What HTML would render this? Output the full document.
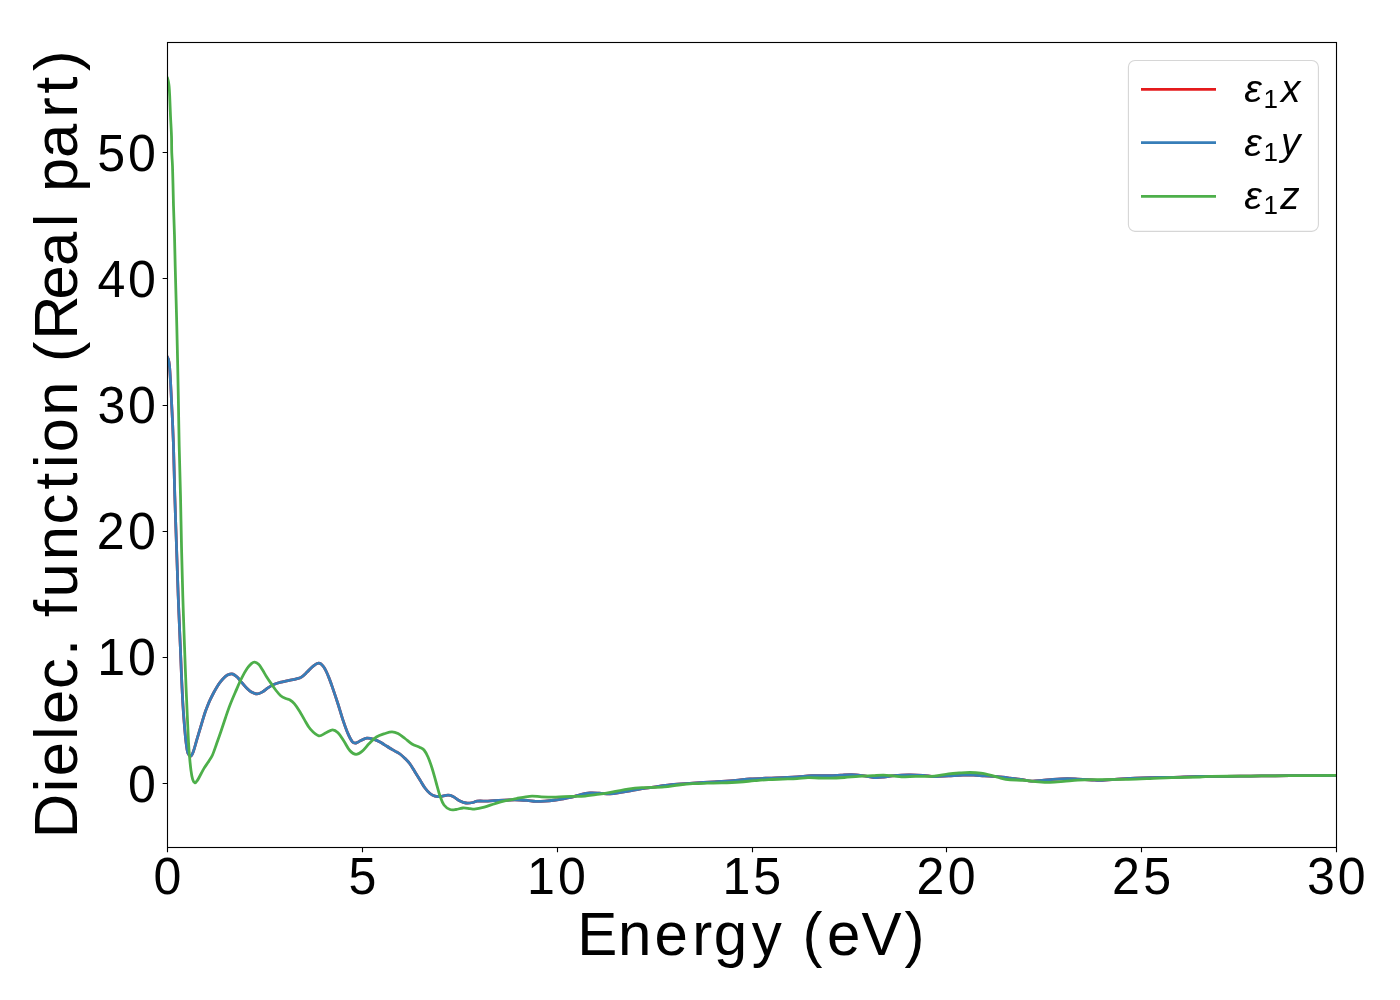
<!DOCTYPE html><html><head><meta charset="utf-8"><title>Dielectric function</title><style>html,body{margin:0;padding:0;background:#fff;overflow:hidden;}svg{display:block;}text{font-family:'Liberation Sans', sans-serif;fill:#000;}.t{opacity:0.999;}</style></head><body>
<svg width="1400" height="1000" viewBox="0 0 1400 1000">
<rect x="0" y="0" width="1400" height="1000" fill="#fff"/>
<defs><clipPath id="ax"><rect x="167.50" y="42.50" width="1169.00" height="805.00"/></clipPath></defs>
<g clip-path="url(#ax)" fill="none" stroke-width="2.78" stroke-linejoin="round" stroke-linecap="square">
<path d="M167.50 357.40 C167.83 358.10 168.33 358.75 168.50 359.50 C168.99 361.62 169.30 363.82 169.50 366.00 C169.96 370.99 170.21 376.00 170.50 381.00 C170.88 387.66 171.17 394.33 171.50 401.00 C171.83 407.67 172.20 414.33 172.50 421.00 C172.87 429.33 173.24 437.66 173.50 446.00 C174.01 462.66 174.30 479.34 174.80 496.00 C175.30 512.67 175.93 529.33 176.50 546.00 C177.07 562.67 177.57 579.34 178.20 596.00 C178.83 612.67 179.61 629.33 180.30 646.00 C180.71 656.00 181.05 666.00 181.50 676.00 C181.95 686.00 182.39 696.01 183.00 706.00 C183.49 714.01 184.13 722.01 184.80 730.00 C185.13 734.01 185.48 738.02 186.00 742.00 C186.48 745.62 186.73 749.41 187.80 752.80 C188.23 754.14 189.66 756.32 190.50 756.20 C191.46 756.06 192.61 753.54 193.20 752.00 C194.67 748.17 195.52 744.06 196.70 740.10 C197.59 737.13 198.50 734.17 199.40 731.20 C200.30 728.20 201.20 725.20 202.10 722.20 C203.00 719.20 203.81 716.17 204.80 713.20 C205.61 710.77 206.55 708.38 207.50 706.00 C208.35 703.88 209.23 701.77 210.20 699.70 C211.33 697.27 212.54 694.87 213.80 692.50 C214.94 690.37 216.10 688.24 217.40 686.20 C218.50 684.47 219.70 682.79 221.00 681.20 C222.40 679.49 223.78 677.64 225.50 676.30 C226.78 675.30 228.44 674.66 230.00 674.20 C230.91 673.93 232.05 673.75 232.90 674.10 C234.41 674.72 235.86 675.93 237.10 677.10 C238.69 678.60 239.96 680.44 241.40 682.10 C243.29 684.27 245.07 686.57 247.10 688.60 C248.40 689.90 249.80 691.25 251.40 692.10 C253.13 693.02 255.21 693.90 257.10 693.90 C258.78 693.90 260.57 692.95 262.10 692.10 C264.17 690.95 265.89 689.18 267.90 687.90 C269.96 686.58 272.06 685.26 274.30 684.30 C276.56 683.33 279.00 682.72 281.40 682.10 C284.00 681.42 286.67 680.96 289.30 680.40 C291.67 679.90 294.07 679.53 296.40 678.90 C298.11 678.43 299.93 678.03 301.40 677.10 C303.50 675.77 305.25 673.82 307.10 672.10 C309.08 670.25 310.77 668.03 312.90 666.40 C314.64 665.07 316.84 663.13 318.70 663.20 C320.41 663.26 322.43 665.21 323.60 666.80 C325.66 669.61 327.01 673.11 328.40 676.40 C330.21 680.71 331.66 685.18 333.20 689.60 C334.86 694.38 336.46 699.18 338.00 704.00 C339.66 709.18 341.08 714.44 342.80 719.60 C344.28 724.04 345.75 728.51 347.60 732.80 C348.95 735.91 350.36 739.32 352.40 741.80 C353.16 742.72 354.84 743.17 356.00 743.00 C357.64 742.77 359.17 741.33 360.80 740.60 C362.77 739.73 364.73 738.39 366.80 738.20 C369.13 737.99 371.68 738.73 374.00 739.40 C376.08 740.00 378.07 741.00 380.00 742.00 C381.74 742.90 383.33 744.07 385.00 745.10 C386.67 746.13 388.32 747.19 390.00 748.20 C391.65 749.19 393.33 750.13 395.00 751.10 C396.67 752.07 398.46 752.86 400.00 754.00 C401.79 755.33 403.42 756.92 405.00 758.50 C406.75 760.25 408.53 762.02 410.00 764.00 C411.86 766.52 413.33 769.33 415.00 772.00 C416.67 774.67 418.33 777.33 420.00 780.00 C421.67 782.67 423.14 785.48 425.00 788.00 C426.47 789.98 428.11 791.95 430.00 793.50 C431.44 794.68 433.23 795.67 435.00 796.20 C436.56 796.67 438.34 796.63 440.00 796.50 C442.68 796.29 445.35 795.20 448.00 795.20 C449.69 795.20 451.47 795.76 453.00 796.50 C455.47 797.69 457.54 799.77 460.00 801.00 C461.87 801.94 463.95 802.76 466.00 803.00 C468.28 803.26 470.71 802.89 473.00 802.50 C474.41 802.26 475.68 801.23 477.10 801.10 C480.64 800.77 484.30 801.22 487.90 801.10 C491.47 800.98 495.03 800.58 498.60 800.40 C502.16 800.22 505.73 800.07 509.30 800.00 C512.87 799.93 516.44 799.92 520.00 800.00 C522.37 800.05 524.74 800.19 527.10 800.40 C529.97 800.66 532.82 801.29 535.70 801.40 C538.79 801.52 541.91 801.32 545.00 801.10 C548.57 800.85 552.14 800.43 555.70 800.00 C557.14 799.83 558.57 799.54 560.00 799.30 C563.57 798.71 567.18 798.32 570.70 797.50 C574.32 796.65 577.78 795.14 581.40 794.30 C584.22 793.64 587.12 793.18 590.00 793.00 C593.08 792.81 596.20 793.06 599.30 793.20 C602.87 793.36 606.44 794.02 610.00 793.90 C613.58 793.78 617.14 793.03 620.70 792.50 C624.28 791.97 627.84 791.31 631.40 790.70 C636.17 789.88 640.92 788.97 645.70 788.20 C650.46 787.44 655.23 786.77 660.00 786.10 C663.80 785.57 667.58 784.94 671.40 784.60 C678.55 783.97 685.73 783.67 692.90 783.20 C700.03 782.73 707.17 782.27 714.30 781.80 C721.43 781.33 728.58 780.98 735.70 780.40 C740.48 780.01 745.22 779.20 750.00 778.90 C758.55 778.37 767.14 778.28 775.70 777.90 C782.84 777.58 789.97 777.24 797.10 776.80 C801.87 776.51 806.63 775.87 811.40 775.70 C817.59 775.47 823.80 775.73 830.00 775.60 C833.57 775.53 837.13 775.27 840.70 775.10 C844.27 774.93 847.84 774.52 851.40 774.60 C854.97 774.68 858.55 775.15 862.10 775.60 C866.18 776.12 870.21 777.21 874.30 777.50 C877.38 777.71 880.51 777.38 883.60 777.10 C887.18 776.78 890.72 776.00 894.30 775.70 C899.05 775.30 903.83 775.05 908.60 775.00 C913.36 774.95 918.14 775.10 922.90 775.40 C926.71 775.64 930.49 776.53 934.30 776.60 C939.06 776.69 943.83 776.15 948.60 775.90 C953.37 775.65 958.13 775.25 962.90 775.10 C966.46 774.99 970.04 774.97 973.60 775.10 C977.17 775.23 980.73 775.68 984.30 775.90 C987.86 776.12 991.44 776.13 995.00 776.40 C998.57 776.67 1002.14 777.07 1005.70 777.50 C1007.14 777.67 1008.56 778.03 1010.00 778.20 C1013.56 778.63 1017.15 778.82 1020.70 779.30 C1024.28 779.79 1027.81 780.92 1031.40 781.10 C1034.95 781.28 1038.54 780.70 1042.10 780.40 C1045.71 780.10 1049.29 779.56 1052.90 779.30 C1057.63 778.96 1062.37 778.64 1067.10 778.60 C1070.70 778.57 1074.30 778.90 1077.90 779.10 C1082.64 779.37 1087.37 779.72 1092.10 780.00 C1094.73 780.15 1097.37 780.50 1100.00 780.40 C1107.14 780.13 1114.26 779.29 1121.40 778.90 C1130.93 778.39 1140.46 778.01 1150.00 777.70 C1157.13 777.47 1164.27 777.50 1171.40 777.30 C1180.94 777.03 1190.47 776.51 1200.00 776.30 C1203.80 776.21 1207.60 776.41 1211.40 776.40 C1220.93 776.38 1230.47 776.30 1240.00 776.20 C1247.13 776.13 1254.27 775.97 1261.40 775.90 C1270.93 775.80 1280.47 775.76 1290.00 775.70 C1305.47 775.60 1320.93 775.50 1336.40 775.40" stroke="#e41a1c"/>
<path d="M167.50 357.40 C167.83 358.10 168.33 358.75 168.50 359.50 C168.99 361.62 169.30 363.82 169.50 366.00 C169.96 370.99 170.21 376.00 170.50 381.00 C170.88 387.66 171.17 394.33 171.50 401.00 C171.83 407.67 172.20 414.33 172.50 421.00 C172.87 429.33 173.24 437.66 173.50 446.00 C174.01 462.66 174.30 479.34 174.80 496.00 C175.30 512.67 175.93 529.33 176.50 546.00 C177.07 562.67 177.57 579.34 178.20 596.00 C178.83 612.67 179.61 629.33 180.30 646.00 C180.71 656.00 181.05 666.00 181.50 676.00 C181.95 686.00 182.39 696.01 183.00 706.00 C183.49 714.01 184.13 722.01 184.80 730.00 C185.13 734.01 185.48 738.02 186.00 742.00 C186.48 745.62 186.73 749.41 187.80 752.80 C188.23 754.14 189.66 756.32 190.50 756.20 C191.46 756.06 192.61 753.54 193.20 752.00 C194.67 748.17 195.52 744.06 196.70 740.10 C197.59 737.13 198.50 734.17 199.40 731.20 C200.30 728.20 201.20 725.20 202.10 722.20 C203.00 719.20 203.81 716.17 204.80 713.20 C205.61 710.77 206.55 708.38 207.50 706.00 C208.35 703.88 209.23 701.77 210.20 699.70 C211.33 697.27 212.54 694.87 213.80 692.50 C214.94 690.37 216.10 688.24 217.40 686.20 C218.50 684.47 219.70 682.79 221.00 681.20 C222.40 679.49 223.78 677.64 225.50 676.30 C226.78 675.30 228.44 674.66 230.00 674.20 C230.91 673.93 232.05 673.75 232.90 674.10 C234.41 674.72 235.86 675.93 237.10 677.10 C238.69 678.60 239.96 680.44 241.40 682.10 C243.29 684.27 245.07 686.57 247.10 688.60 C248.40 689.90 249.80 691.25 251.40 692.10 C253.13 693.02 255.21 693.90 257.10 693.90 C258.78 693.90 260.57 692.95 262.10 692.10 C264.17 690.95 265.89 689.18 267.90 687.90 C269.96 686.58 272.06 685.26 274.30 684.30 C276.56 683.33 279.00 682.72 281.40 682.10 C284.00 681.42 286.67 680.96 289.30 680.40 C291.67 679.90 294.07 679.53 296.40 678.90 C298.11 678.43 299.93 678.03 301.40 677.10 C303.50 675.77 305.25 673.82 307.10 672.10 C309.08 670.25 310.77 668.03 312.90 666.40 C314.64 665.07 316.84 663.13 318.70 663.20 C320.41 663.26 322.43 665.21 323.60 666.80 C325.66 669.61 327.01 673.11 328.40 676.40 C330.21 680.71 331.66 685.18 333.20 689.60 C334.86 694.38 336.46 699.18 338.00 704.00 C339.66 709.18 341.08 714.44 342.80 719.60 C344.28 724.04 345.75 728.51 347.60 732.80 C348.95 735.91 350.36 739.32 352.40 741.80 C353.16 742.72 354.84 743.17 356.00 743.00 C357.64 742.77 359.17 741.33 360.80 740.60 C362.77 739.73 364.73 738.39 366.80 738.20 C369.13 737.99 371.68 738.73 374.00 739.40 C376.08 740.00 378.07 741.00 380.00 742.00 C381.74 742.90 383.33 744.07 385.00 745.10 C386.67 746.13 388.32 747.19 390.00 748.20 C391.65 749.19 393.33 750.13 395.00 751.10 C396.67 752.07 398.46 752.86 400.00 754.00 C401.79 755.33 403.42 756.92 405.00 758.50 C406.75 760.25 408.53 762.02 410.00 764.00 C411.86 766.52 413.33 769.33 415.00 772.00 C416.67 774.67 418.33 777.33 420.00 780.00 C421.67 782.67 423.14 785.48 425.00 788.00 C426.47 789.98 428.11 791.95 430.00 793.50 C431.44 794.68 433.23 795.67 435.00 796.20 C436.56 796.67 438.34 796.63 440.00 796.50 C442.68 796.29 445.35 795.20 448.00 795.20 C449.69 795.20 451.47 795.76 453.00 796.50 C455.47 797.69 457.54 799.77 460.00 801.00 C461.87 801.94 463.95 802.76 466.00 803.00 C468.28 803.26 470.71 802.89 473.00 802.50 C474.41 802.26 475.68 801.23 477.10 801.10 C480.64 800.77 484.30 801.22 487.90 801.10 C491.47 800.98 495.03 800.58 498.60 800.40 C502.16 800.22 505.73 800.07 509.30 800.00 C512.87 799.93 516.44 799.92 520.00 800.00 C522.37 800.05 524.74 800.19 527.10 800.40 C529.97 800.66 532.82 801.29 535.70 801.40 C538.79 801.52 541.91 801.32 545.00 801.10 C548.57 800.85 552.14 800.43 555.70 800.00 C557.14 799.83 558.57 799.54 560.00 799.30 C563.57 798.71 567.18 798.32 570.70 797.50 C574.32 796.65 577.78 795.14 581.40 794.30 C584.22 793.64 587.12 793.18 590.00 793.00 C593.08 792.81 596.20 793.06 599.30 793.20 C602.87 793.36 606.44 794.02 610.00 793.90 C613.58 793.78 617.14 793.03 620.70 792.50 C624.28 791.97 627.84 791.31 631.40 790.70 C636.17 789.88 640.92 788.97 645.70 788.20 C650.46 787.44 655.23 786.77 660.00 786.10 C663.80 785.57 667.58 784.94 671.40 784.60 C678.55 783.97 685.73 783.67 692.90 783.20 C700.03 782.73 707.17 782.27 714.30 781.80 C721.43 781.33 728.58 780.98 735.70 780.40 C740.48 780.01 745.22 779.20 750.00 778.90 C758.55 778.37 767.14 778.28 775.70 777.90 C782.84 777.58 789.97 777.24 797.10 776.80 C801.87 776.51 806.63 775.87 811.40 775.70 C817.59 775.47 823.80 775.73 830.00 775.60 C833.57 775.53 837.13 775.27 840.70 775.10 C844.27 774.93 847.84 774.52 851.40 774.60 C854.97 774.68 858.55 775.15 862.10 775.60 C866.18 776.12 870.21 777.21 874.30 777.50 C877.38 777.71 880.51 777.38 883.60 777.10 C887.18 776.78 890.72 776.00 894.30 775.70 C899.05 775.30 903.83 775.05 908.60 775.00 C913.36 774.95 918.14 775.10 922.90 775.40 C926.71 775.64 930.49 776.53 934.30 776.60 C939.06 776.69 943.83 776.15 948.60 775.90 C953.37 775.65 958.13 775.25 962.90 775.10 C966.46 774.99 970.04 774.97 973.60 775.10 C977.17 775.23 980.73 775.68 984.30 775.90 C987.86 776.12 991.44 776.13 995.00 776.40 C998.57 776.67 1002.14 777.07 1005.70 777.50 C1007.14 777.67 1008.56 778.03 1010.00 778.20 C1013.56 778.63 1017.15 778.82 1020.70 779.30 C1024.28 779.79 1027.81 780.92 1031.40 781.10 C1034.95 781.28 1038.54 780.70 1042.10 780.40 C1045.71 780.10 1049.29 779.56 1052.90 779.30 C1057.63 778.96 1062.37 778.64 1067.10 778.60 C1070.70 778.57 1074.30 778.90 1077.90 779.10 C1082.64 779.37 1087.37 779.72 1092.10 780.00 C1094.73 780.15 1097.37 780.50 1100.00 780.40 C1107.14 780.13 1114.26 779.29 1121.40 778.90 C1130.93 778.39 1140.46 778.01 1150.00 777.70 C1157.13 777.47 1164.27 777.50 1171.40 777.30 C1180.94 777.03 1190.47 776.51 1200.00 776.30 C1203.80 776.21 1207.60 776.41 1211.40 776.40 C1220.93 776.38 1230.47 776.30 1240.00 776.20 C1247.13 776.13 1254.27 775.97 1261.40 775.90 C1270.93 775.80 1280.47 775.76 1290.00 775.70 C1305.47 775.60 1320.93 775.50 1336.40 775.40" stroke="#377eb8"/>
<path d="M167.50 78.20 C167.77 79.13 168.12 80.05 168.30 81.00 C168.65 82.82 168.93 84.66 169.10 86.50 C169.39 89.66 169.55 92.83 169.70 96.00 C170.02 102.66 170.20 109.33 170.50 116.00 C170.80 122.67 171.27 129.33 171.50 136.00 C171.69 141.50 171.57 147.00 171.75 152.50 C171.90 157.00 172.35 161.50 172.50 166.00 C172.94 179.33 173.12 192.67 173.50 206.00 C173.79 216.00 174.22 226.00 174.50 236.00 C174.78 246.00 174.95 256.00 175.20 266.00 C175.45 276.00 175.73 286.00 176.00 296.00 C176.27 306.00 176.56 316.00 176.80 326.00 C177.12 339.33 177.41 352.67 177.70 366.00 C177.91 376.00 178.11 386.00 178.30 396.00 C178.61 412.67 178.83 429.33 179.20 446.00 C179.57 462.67 180.12 479.33 180.50 496.00 C180.88 512.67 181.12 529.33 181.50 546.00 C181.88 562.67 182.30 579.34 182.80 596.00 C183.30 612.67 183.91 629.33 184.50 646.00 C184.97 659.33 185.47 672.67 186.00 686.00 C186.40 696.00 186.85 706.00 187.30 716.00 C187.69 724.67 188.02 733.34 188.50 742.00 C188.76 746.67 189.10 751.34 189.50 756.00 C189.87 760.34 190.22 764.69 190.80 769.00 C191.26 772.42 191.61 775.96 192.60 779.20 C193.01 780.56 194.10 782.58 195.00 782.80 C195.70 782.98 196.76 781.32 197.40 780.40 C198.56 778.72 199.41 776.80 200.40 775.00 C201.61 772.80 202.70 770.54 204.00 768.40 C205.50 765.94 207.25 763.63 208.80 761.20 C210.05 759.23 211.45 757.32 212.40 755.20 C214.02 751.59 215.16 747.74 216.50 744.00 C218.03 739.74 219.54 735.48 221.00 731.20 C222.54 726.71 223.96 722.19 225.50 717.70 C226.96 713.45 228.38 709.19 230.00 705.00 C231.78 700.42 233.75 695.91 235.70 691.40 C237.55 687.11 239.31 682.77 241.40 678.60 C243.11 675.17 244.98 671.78 247.10 668.60 C248.31 666.78 249.77 665.01 251.40 663.60 C252.27 662.84 253.55 662.00 254.60 662.10 C255.95 662.23 257.53 663.27 258.60 664.30 C260.03 665.67 261.00 667.59 262.10 669.30 C263.60 671.62 264.92 674.06 266.40 676.40 C267.79 678.60 269.23 680.76 270.70 682.90 C272.33 685.29 273.92 687.72 275.70 690.00 C277.25 691.99 278.81 694.07 280.70 695.70 C282.14 696.94 283.96 697.80 285.70 698.60 C287.06 699.23 288.72 699.26 290.00 700.00 C291.59 700.92 293.09 702.19 294.30 703.60 C296.29 705.93 297.95 708.59 299.60 711.20 C301.32 713.92 302.74 716.84 304.40 719.60 C306.34 722.84 307.93 726.42 310.40 729.20 C312.73 731.82 315.79 735.11 318.80 735.80 C320.99 736.31 323.62 733.84 326.00 732.80 C328.22 731.84 330.44 729.80 332.60 729.80 C334.44 729.80 336.58 731.38 338.00 732.80 C340.38 735.18 342.09 738.34 344.00 741.20 C346.09 744.34 347.53 748.08 350.00 750.80 C351.53 752.48 353.96 754.30 356.00 754.40 C357.96 754.50 360.30 752.79 362.00 751.40 C364.70 749.19 366.70 746.10 369.20 743.60 C371.50 741.30 373.70 738.73 376.40 737.00 C378.97 735.36 382.07 734.48 385.00 733.50 C387.27 732.74 389.68 731.80 392.00 731.80 C394.01 731.80 396.18 732.56 398.00 733.50 C400.51 734.79 402.71 736.78 405.00 738.50 C407.37 740.28 409.48 742.49 412.00 744.00 C414.48 745.49 417.40 746.20 420.00 747.50 C421.40 748.20 423.02 748.83 424.00 750.00 C425.68 752.00 426.91 754.55 428.00 757.00 C429.58 760.55 430.81 764.29 432.00 768.00 C433.48 772.62 434.67 777.33 436.00 782.00 C437.33 786.67 438.41 791.43 440.00 796.00 C441.08 799.09 442.11 802.45 444.00 805.00 C445.44 806.95 447.78 808.67 450.00 809.50 C451.78 810.17 454.02 809.73 456.00 809.50 C458.36 809.23 460.64 808.15 463.00 808.00 C465.31 807.85 467.67 808.37 470.00 808.60 C471.44 808.74 472.88 809.25 474.30 809.10 C477.65 808.75 481.02 807.97 484.30 807.10 C487.92 806.14 491.41 804.67 495.00 803.60 C498.54 802.54 502.10 801.54 505.70 800.70 C509.24 799.87 512.83 799.30 516.40 798.60 C519.50 798.00 522.58 797.30 525.70 796.80 C527.82 796.46 529.96 796.10 532.10 796.10 C535.20 796.10 538.30 796.67 541.40 796.80 C546.16 797.00 550.94 797.17 555.70 797.10 C560.70 797.03 565.70 796.57 570.70 796.40 C575.46 796.24 580.25 796.44 585.00 796.10 C588.59 795.84 592.13 795.08 595.70 794.60 C599.26 794.12 602.85 793.78 606.40 793.20 C609.99 792.61 613.53 791.78 617.10 791.10 C620.70 790.41 624.28 789.59 627.90 789.10 C632.61 788.46 637.36 788.00 642.10 787.70 C649.49 787.23 656.92 787.35 664.30 786.80 C669.09 786.45 673.82 785.52 678.60 785.00 C683.36 784.48 688.13 784.00 692.90 783.70 C697.63 783.40 702.37 783.33 707.10 783.20 C711.87 783.07 716.64 783.07 721.40 782.90 C727.60 782.67 733.81 782.41 740.00 782.00 C744.77 781.68 749.53 781.10 754.30 780.70 C759.06 780.30 763.83 779.87 768.60 779.60 C773.36 779.33 778.13 779.27 782.90 779.10 C787.63 778.93 792.37 778.86 797.10 778.60 C800.71 778.40 804.29 777.80 807.90 777.70 C811.46 777.60 815.03 777.92 818.60 778.00 C822.40 778.09 826.20 778.27 830.00 778.20 C834.77 778.11 839.54 777.82 844.30 777.50 C849.07 777.18 853.83 776.62 858.60 776.30 C863.36 775.98 868.13 775.83 872.90 775.60 C876.47 775.43 880.04 775.02 883.60 775.10 C887.17 775.18 890.73 775.76 894.30 776.10 C896.67 776.33 899.03 776.78 901.40 776.80 C906.16 776.84 910.93 776.40 915.70 776.30 C921.90 776.17 928.13 776.55 934.30 776.10 C939.10 775.75 943.82 774.49 948.60 773.90 C952.15 773.46 955.73 773.23 959.30 773.00 C962.86 772.77 966.44 772.47 970.00 772.50 C973.57 772.53 977.17 772.72 980.70 773.20 C984.30 773.69 987.86 774.55 991.40 775.40 C993.83 775.98 996.19 776.84 998.60 777.50 C1000.96 778.14 1003.28 779.03 1005.70 779.30 C1011.85 779.99 1018.11 779.93 1024.30 780.40 C1029.07 780.76 1033.83 781.45 1038.60 781.80 C1042.39 782.08 1046.20 782.36 1050.00 782.30 C1054.54 782.23 1059.07 781.76 1063.60 781.40 C1068.37 781.02 1073.12 780.37 1077.90 780.10 C1083.82 779.77 1089.77 779.69 1095.70 779.60 C1106.67 779.43 1117.64 779.50 1128.60 779.30 C1135.74 779.17 1142.87 778.87 1150.00 778.60 C1157.13 778.33 1164.26 777.93 1171.40 777.70 C1180.93 777.40 1190.47 777.31 1200.00 777.00 C1203.80 776.88 1207.60 776.48 1211.40 776.40 C1220.93 776.21 1230.47 776.30 1240.00 776.20 C1247.13 776.13 1254.27 775.97 1261.40 775.90 C1270.93 775.80 1280.47 775.76 1290.00 775.70 C1305.47 775.60 1320.93 775.50 1336.40 775.40" stroke="#4daf4a"/>
</g>
<rect x="167.50" y="42.50" width="1169.00" height="805.00" fill="none" stroke="#000" stroke-width="1.11" stroke-linejoin="miter"/>
<path d="M167.50 847.50V852.36 M362.50 847.50V852.36 M557.50 847.50V852.36 M752.50 847.50V852.36 M946.50 847.50V852.36 M1141.50 847.50V852.36 M1336.50 847.50V852.36 M167.50 783.50H162.64 M167.50 657.50H162.64 M167.50 531.50H162.64 M167.50 405.50H162.64 M167.50 278.50H162.64 M167.50 152.50H162.64" stroke="#000" stroke-width="1.11" fill="none"/>
<g class="t">
<text x="306.35" y="0" transform="translate(0 893.9) scale(0.5013 0.5209)" font-size="100">0</text>
<text x="695.46" y="0" transform="translate(0 893.9) scale(0.5013 0.5209)" font-size="100">5</text>
<text x="1051.09 1112.88" y="0" transform="translate(0 893.9) scale(0.5013 0.5209)" font-size="100">10</text>
<text x="1441.13 1502.54" y="0" transform="translate(0 893.9) scale(0.5013 0.5209)" font-size="100">15</text>
<text x="1828.12 1890.68" y="0" transform="translate(0 893.9) scale(0.5013 0.5209)" font-size="100">20</text>
<text x="2218.16 2280.35" y="0" transform="translate(0 893.9) scale(0.5013 0.5209)" font-size="100">25</text>
<text x="2607.40 2668.57" y="0" transform="translate(0 893.9) scale(0.5013 0.5209)" font-size="100">30</text>
<text x="255.58" y="0" transform="translate(0 801.70) scale(0.5013 0.5209)" font-size="100">0</text>
<text x="193.80 255.58" y="0" transform="translate(0 675.48) scale(0.5013 0.5209)" font-size="100">10</text>
<text x="193.02 255.58" y="0" transform="translate(0 549.26) scale(0.5013 0.5209)" font-size="100">20</text>
<text x="194.42 255.58" y="0" transform="translate(0 423.04) scale(0.5013 0.5209)" font-size="100">30</text>
<text x="194.28 255.58" y="0" transform="translate(0 296.82) scale(0.5013 0.5209)" font-size="100">40</text>
<text x="193.91 255.58" y="0" transform="translate(0 170.60) scale(0.5013 0.5209)" font-size="100">50</text>
<text x="960.39 1028.13 1089.00 1151.93 1187.51 1250.69 1306.17 1335.42 1375.97 1433.55 1505.16" y="0" transform="translate(0 954.8) scale(0.6010 0.6123)" font-size="100">Energy (eV)</text>
<text x="-1362.54 -1287.74 -1261.77 -1202.75 -1176.73 -1119.77 -1066.27 -1035.96 -1002.84 -971.24 -910.47 -852.64 -795.81 -760.83 -735.18 -675.70 -616.68 -588.24 -552.01 -486.92 -432.23 -369.54 -343.96 -311.92 -256.70 -191.38 -152.46 -115.19" y="0" transform="translate(76.9 0) rotate(-90) scale(0.6153 0.6123)" font-size="100">Dielec. function (Real part)</text>
<rect x="1128.4" y="60.5" width="190" height="170.9" rx="6.6" ry="6.6" fill="#fff" fill-opacity="0.8" stroke="#d6d6d6" stroke-width="1.11"/>
<path d="M1141 89.40H1216" stroke="#e41a1c" stroke-width="2.78" fill="none"/>
<text transform="translate(1244.20 102.42) scale(0.3977 0.3818)" font-size="100" font-style="italic">&#949;</text>
<text transform="translate(1263.52 107.90) scale(0.2605 0.2609)" font-size="100">1</text>
<text transform="translate(1280.95 102.30) scale(0.3880 0.3850)" font-size="100" font-style="italic">x</text>
<path d="M1141 142.60H1216" stroke="#377eb8" stroke-width="2.78" fill="none"/>
<text transform="translate(1244.20 155.52) scale(0.3977 0.3818)" font-size="100" font-style="italic">&#949;</text>
<text transform="translate(1263.52 161.00) scale(0.2605 0.2609)" font-size="100">1</text>
<text transform="translate(1280.94 155.40) scale(0.3880 0.3850)" font-size="100" font-style="italic">y</text>
<path d="M1141 196.40H1216" stroke="#4daf4a" stroke-width="2.78" fill="none"/>
<text transform="translate(1244.20 208.92) scale(0.3977 0.3818)" font-size="100" font-style="italic">&#949;</text>
<text transform="translate(1263.52 214.40) scale(0.2605 0.2609)" font-size="100">1</text>
<text transform="translate(1280.20 208.80) scale(0.3880 0.3850)" font-size="100" font-style="italic">z</text>
</g>
</svg></body></html>
